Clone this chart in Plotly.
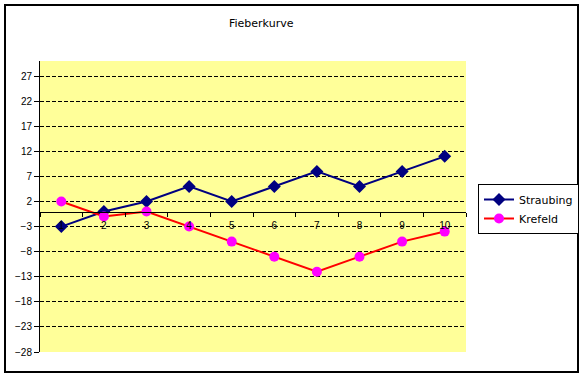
import plotly.graph_objects as go

categories = ["1", "2", "3", "4", "5", "6", "7", "8", "9", "10"]
straubing = [-3, 0, 2, 5, 2, 5, 8, 5, 8, 11]
krefeld = [2, -1, 0, -3, -6, -9, -12, -9, -6, -4]
y_ticks = [-28, -23, -18, -13, -8, -3, 2, 7, 12, 17, 22, 27]

W, H = 584, 377
L, R, T, B = 40, 466, 61, 352
pw, ph = R - L, B - T
ymin, ymax = -28, 30

def px(x):
    return (x - L) / pw

def py(y):
    return (B - y) / ph

fig = go.Figure()
fig.add_trace(go.Scatter(
    x=categories, y=straubing, name="Straubing", mode="lines+markers",
    line=dict(color="#000080", width=2),
    marker=dict(symbol="diamond", size=10, color="#000080"),
))
fig.add_trace(go.Scatter(
    x=categories, y=krefeld, name="Krefeld", mode="lines+markers",
    line=dict(color="#FF0000", width=2),
    marker=dict(symbol="circle", size=10, color="#FF00FF"),
))

fig.update_layout(
    width=W, height=H,
    margin=dict(l=L, r=W - R, t=T, b=H - B, pad=0),
    paper_bgcolor="white",
    plot_bgcolor="#FFFF99",
    font=dict(family="Liberation Sans, Arial, sans-serif", size=10, color="black"),
    showlegend=True,
    legend=dict(
        xref="container", yref="container",
        x=478 / W, y=1 - 184 / H, xanchor="left", yanchor="top",
        bordercolor="black", borderwidth=1, bgcolor="white",
        font=dict(family="DejaVu Sans, Tahoma, sans-serif", size=11, color="black"),
        tracegroupgap=0, itemwidth=30,
    ),
    xaxis=dict(
        type="category", range=[-0.5, 9.5],
        anchor="free", position=(0 - ymin) / (ymax - ymin),
        showline=True, linecolor="black", linewidth=1,
        ticks="outside", tickson="boundaries", ticklen=4, tickcolor="black",
        ticklabelstandoff=4,
        showgrid=False, zeroline=False,
        tickfont=dict(size=10),
    ),
    yaxis=dict(
        range=[ymin, ymax], tickvals=y_ticks,
        showline=True, linecolor="black", linewidth=1,
        ticks="outside", ticklen=5, tickcolor="black",
        showgrid=True, gridcolor="black", gridwidth=1, griddash="4px,2px",
        zeroline=False,
        tickfont=dict(size=10),
    ),
    annotations=[dict(
        text="Fieberkurve", xref="paper", yref="paper",
        x=px(261), y=py(23), xanchor="center", yanchor="middle",
        showarrow=False, font=dict(size=11, family="DejaVu Sans, Tahoma, sans-serif"),
    )],
    shapes=[dict(
        type="rect", xref="paper", yref="paper",
        x0=px(5), x1=px(578), y0=py(372), y1=py(5),
        line=dict(color="black", width=2), layer="below",
    )],
)

fig.write_html(
    "out.html",
    config={"displayModeBar": False},
    post_script="document.body.style.margin='0';document.body.style.overflow='hidden';",
)
